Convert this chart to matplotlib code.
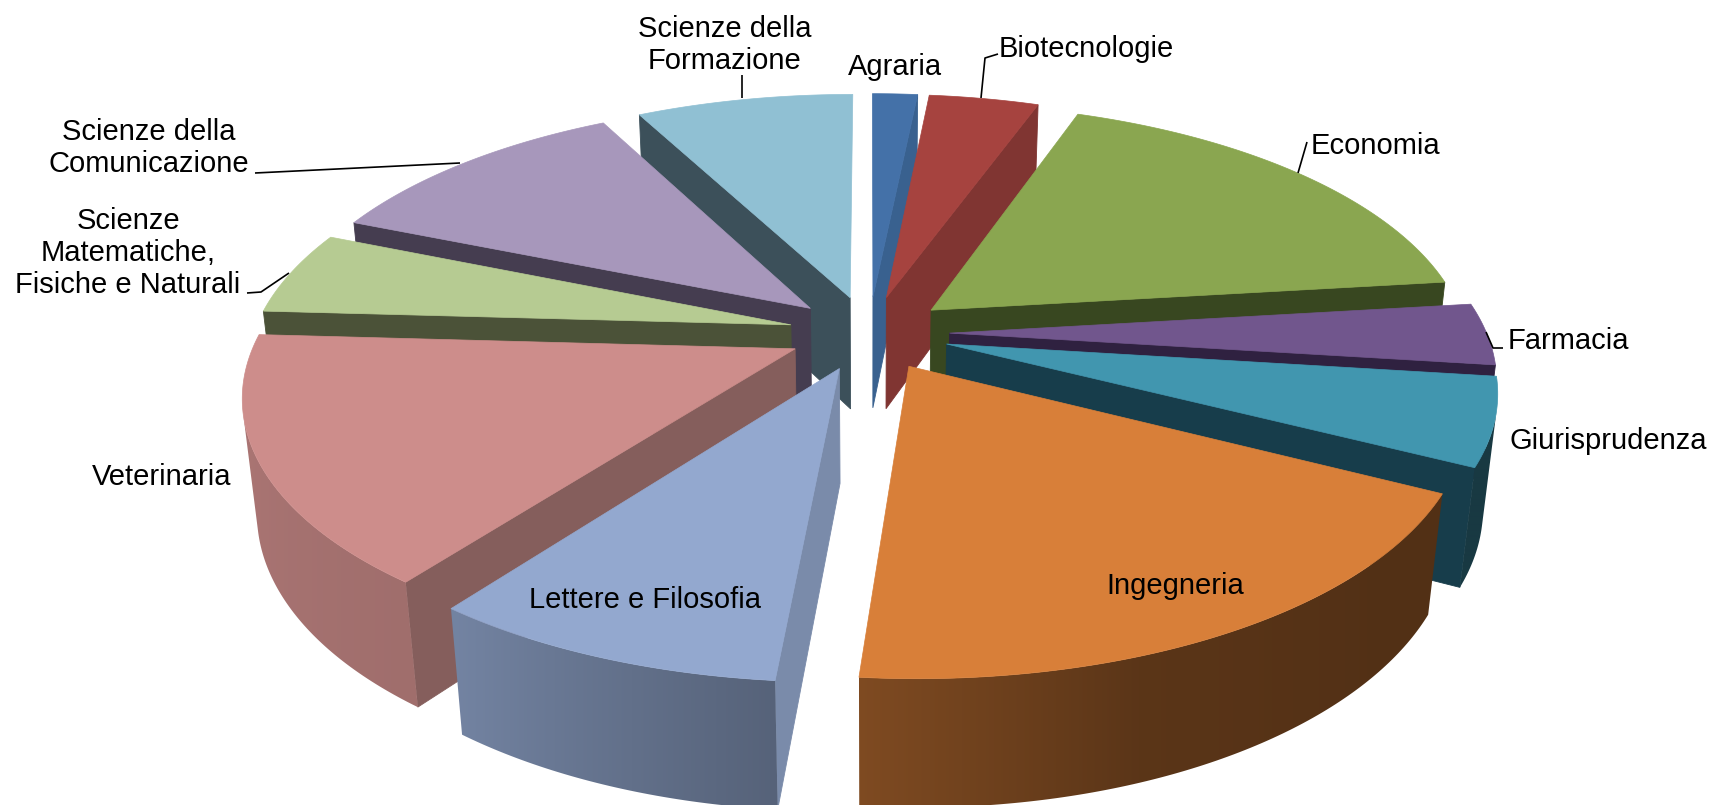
import numpy as np
import matplotlib
matplotlib.use("Agg")
import matplotlib.pyplot as plt
from matplotlib.patches import Polygon
from matplotlib.colors import to_rgb

categories = ["Agraria", "Biotecnologie", "Economia", "Farmacia", "Giurisprudenza", "Ingegneria",
              "Lettere e Filosofia", "Veterinaria", "Scienze\nMatematiche,\nFisiche e Naturali",
              "Scienze della\nComunicazione", "Scienze della\nFormazione"]
shares = [1.6, 3.9, 17.6, 3.9, 5.5, 18.9, 8.9, 15.6, 5.3, 11.1, 7.7]

top_colors = ["#4471A8", "#A6433F", "#8AA650", "#71568D", "#4196AF", "#D87F39",
              "#93A8CF", "#CD8D8B", "#B6CB92", "#A797BB", "#90C0D3"]
side_colors = ["#39618F", "#803532", "#384720", "#2F2140", "#173D4B", "#55341A",
               "#7A8BAA", "#855E5C", "#4B5238", "#453D50", "#3C505A"]

# layout of the perspective pie (pixels)
CX, CY, A, B, K, DEPTH, M, EXPL = 869, 333, 537, 248, 0.1666, 115.6, 0.023, 0.15
RIM_T = [90, 130, 160, 184, 216, 274, 360]
RIM_S = [0.38, 0.38, 0.42, 0.58, 0.78, 0.86, 0.86]
MIN_SIDE_AREA = 400  # radial walls seen almost edge-on are left out

labels_xy = [(895, 67), (1086, 49), (1375, 146), (1568, 341), (1608, 441), (1175, 586),
             (645, 600), (162, 477), (128, 253), (149, 148), (725, 45)]
leaders = [[(998, 54), (985, 58), (981, 98)], [(1307, 142), (1298, 173)],
           [(1503, 348), (1493, 348), (1486, 332)], [(247, 293), (261, 292), (289, 273)],
           [(255, 173), (460, 163)], [(742, 75), (742, 98)]]


def project(u, v, z=0.0):
    s = 1.0 / (1 + K * v + M * z)
    return CX + A * u * s, CY - (B * v - DEPTH * z) * s


def area(q):
    x, y = np.array(q).T
    return 0.5 * np.sum(x * np.roll(y, -1) - np.roll(x, -1) * y)


fig = plt.figure(figsize=(17.13, 8.05), dpi=100)
ax = fig.add_axes([0, 0, 1, 1])

edges = np.concatenate([[0], np.cumsum(shares)]) / np.sum(shares) * 360
mids = (edges[:-1] + edges[1:]) / 2
order = sorted(range(len(shares)), key=lambda i: -np.cos(np.radians(mids[i])))

z_now = 1
for i in order:
    t0, t1 = edges[i], edges[i + 1]
    m = np.radians(mids[i])
    au, av = EXPL * np.sin(m), EXPL * np.cos(m)
    th = np.linspace(t0, t1, max(3, int((t1 - t0) * 1.5) + 2))
    us = au + np.sin(np.radians(th))
    vs = av + np.cos(np.radians(th))
    base = np.array(to_rgb(top_colors[i]))
    side = side_colors[i]
    a_top, a_bot = project(au, av, 0), project(au, av, 1)
    first_top, first_bot = project(us[0], vs[0], 0), project(us[0], vs[0], 1)
    last_top, last_bot = project(us[-1], vs[-1], 0), project(us[-1], vs[-1], 1)
    for q in ([a_top, first_top, first_bot, a_bot], [last_top, a_top, a_bot, last_bot]):
        if area(q) < -MIN_SIDE_AREA:
            ax.add_patch(Polygon(q, closed=True, facecolor=side, edgecolor=side, lw=0.6, zorder=z_now))
    z_now += 1
    # outer wall: only its front-facing run, filled by a left-to-right gradient
    keep = []
    for j in range(len(th) - 1):
        q = [project(us[j], vs[j], 0), project(us[j + 1], vs[j + 1], 0),
             project(us[j + 1], vs[j + 1], 1), project(us[j], vs[j], 1)]
        if area(q) < 0:
            keep += [j, j + 1]
    if keep:
        idx = sorted(set(keep))
        top_run = [project(us[j], vs[j], 0) for j in idx]
        bot_run = [project(us[j], vs[j], 1) for j in idx]
        wall = Polygon(top_run + bot_run[::-1], closed=True, facecolor="none", edgecolor="none")
        ax.add_patch(wall)
        pts = np.array(top_run + bot_run)
        x0, x1 = pts[:, 0].min(), pts[:, 0].max()
        y0, y1 = pts[:, 1].min(), pts[:, 1].max()
        columns = np.linspace(x0, x1, max(2, int(x1 - x0) + 1))
        tx = np.array([p[0] for p in top_run])
        srt = np.argsort(tx)
        shade = np.interp(columns, tx[srt], np.interp(th[idx], RIM_T, RIM_S)[srt])
        grad = np.clip(base[None, None, :] * shade[None, :, None], 0, 1)
        im = ax.imshow(grad, extent=(x0, x1, y1, y0), aspect="auto", interpolation="bilinear",
                       zorder=z_now)
        im.set_clip_path(wall)
    z_now += 1
    outline = [a_top] + [project(u, v, 0) for u, v in zip(us, vs)]
    ax.add_patch(Polygon(outline, closed=True, facecolor=top_colors[i], edgecolor=top_colors[i],
                         lw=0.5, zorder=z_now))
    z_now += 1

for seg in leaders:
    xs, ys = zip(*seg)
    ax.plot(xs, ys, color="black", lw=1.2, zorder=z_now, solid_capstyle="butt")

for name, (x, y) in zip(categories, labels_xy):
    ax.text(x, y, name, ha="center", va="center", fontsize=21, family="Liberation Sans",
            color="black", linespacing=1.18, zorder=z_now + 1)

ax.set_xlim(0, 1713)
ax.set_ylim(805, 0)
ax.axis("off")
fig.savefig("out.png", dpi=100, facecolor="white")
